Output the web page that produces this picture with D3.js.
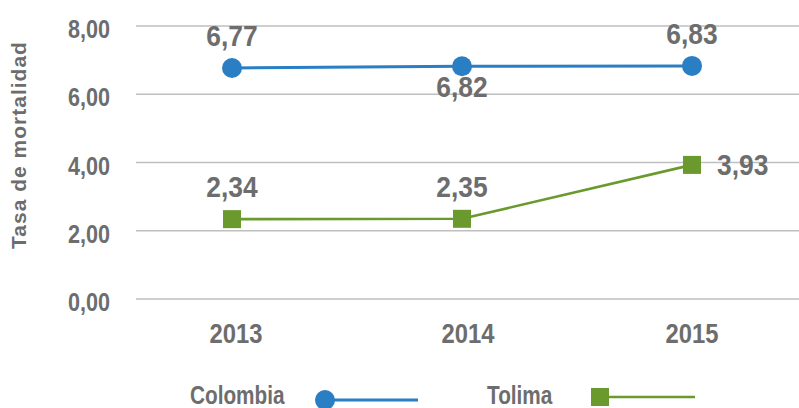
<!DOCTYPE html>
<html>
<head>
<meta charset="utf-8">
<script src="https://cdn.jsdelivr.net/npm/d3@7"></script>
<style>
  html, body { margin: 0; padding: 0; background: #fff; }
  svg { display: block; }
  text { font-family: "Liberation Sans", Arial, sans-serif; font-weight: bold; fill: #6d6d6d; }
</style>
</head>
<body>
<svg id="chart" width="799" height="408"></svg>
<script>
// Mortality rate by year
const years = ["2013", "2014", "2015"];
const colombia = [6.77, 6.82, 6.83];
const tolima = [2.34, 2.35, 3.93];
const yTicks = [0, 2, 4, 6, 8];
const seriesNames = ["Colombia", "Tolima"];
const axisTitle = "Tasa de mortalidad";

const W = 799, H = 408;
const svg = d3.select("#chart");

const x = d3.scalePoint().domain(years).range([232, 692]);
const y = d3.scaleLinear().domain([0, 8]).range([299, 26]);

const fmt = v => d3.format(".2f")(v).replace(".", ",");

// narrow-face look: squeeze glyphs horizontally
function condense(sel, k) {
  sel.each(function () {
    const w = this.getComputedTextLength();
    d3.select(this).attr("textLength", w * k).attr("lengthAdjust", "spacingAndGlyphs");
  });
}

// gridlines
svg.append("g")
  .selectAll("line")
  .data(yTicks)
  .join("line")
  .attr("x1", 136).attr("x2", W)
  .attr("y1", d => y(d)).attr("y2", d => y(d))
  .attr("stroke", "#bfbfbf").attr("stroke-width", 1.3);

// y axis tick labels
const yAxis = d3.axisLeft(y).tickValues(yTicks).tickFormat(fmt).tickSize(0).tickPadding(0);
const gy = svg.append("g").attr("transform", "translate(110,0)").call(yAxis);
gy.attr("font-family", null).attr("font-size", null);
gy.select(".domain").remove();
gy.selectAll("text").attr("font-size", 26).attr("dy", "0.45em").call(condense, 0.83);

// x axis category labels
const xAxis = d3.axisBottom(x).tickSize(0).tickPadding(0);
const gx = svg.append("g").attr("transform", "translate(0,343)").call(xAxis);
gx.attr("font-family", null).attr("font-size", null);
gx.select(".domain").remove();
gx.selectAll("text").attr("font-size", 28).attr("dy", 0).attr("y", 0).call(condense, 0.85);
gx.selectAll(".tick").attr("transform", (d, i) => `translate(${x(d) + [4, 6, 0][i]},0)`);

// axis title
svg.append("text")
  .attr("transform", "translate(26,145) rotate(-90)")
  .attr("text-anchor", "middle")
  .attr("font-size", 21)
  .attr("letter-spacing", 1)
  .text(axisTitle);

const blue = "#2a7ec3", green = "#6a992d";
const line = d3.line().x(d => x(d.year)).y(d => y(d.v));

const colData = years.map((yr, i) => ({ year: yr, v: colombia[i] }));
const tolData = years.map((yr, i) => ({ year: yr, v: tolima[i] }));

// series lines
svg.append("path").datum(colData).attr("d", line)
  .attr("fill", "none").attr("stroke", blue).attr("stroke-width", 3);
svg.append("path").datum(tolData).attr("d", line)
  .attr("fill", "none").attr("stroke", green).attr("stroke-width", 2.6);

// markers
svg.append("g").selectAll("circle").data(colData).join("circle")
  .attr("cx", d => x(d.year)).attr("cy", d => y(d.v)).attr("r", 10)
  .attr("fill", blue);
const sq = 18;
svg.append("g").selectAll("rect").data(tolData).join("rect")
  .attr("x", d => x(d.year) - sq / 2).attr("y", d => y(d.v) - sq / 2)
  .attr("width", sq).attr("height", sq).attr("fill", green);

// data labels
const placeCol = ["above", "below", "above"];
const placeTol = ["above", "above", "right"];
function labels(data, place) {
  svg.append("g").selectAll("text").data(data).join("text")
    .attr("font-size", 30)
    .attr("text-anchor", (d, i) => place[i] === "right" ? "start" : "middle")
    .attr("x", (d, i) => x(d.year) + (place[i] === "right" ? 25 : 0))
    .attr("y", (d, i) => y(d.v) + (place[i] === "above" ? -22 : place[i] === "below" ? 31 : 10))
    .text(d => fmt(d.v))
    .call(condense, 0.88);
}
labels(colData, placeCol);
labels(tolData, placeTol);

// legend
const lg = svg.append("g");
lg.append("text").attr("x", 190).attr("y", 404).attr("font-size", 25).text(seriesNames[0]).call(condense, 0.83);
lg.append("line").attr("x1", 325).attr("x2", 418).attr("y1", 400).attr("y2", 400)
  .attr("stroke", blue).attr("stroke-width", 3);
lg.append("circle").attr("cx", 325).attr("cy", 400).attr("r", 10).attr("fill", blue);

lg.append("text").attr("x", 487).attr("y", 404).attr("font-size", 25).text(seriesNames[1]).call(condense, 0.83);
lg.append("line").attr("x1", 600).attr("x2", 695).attr("y1", 397).attr("y2", 397)
  .attr("stroke", green).attr("stroke-width", 2.6);
lg.append("rect").attr("x", 600 - sq / 2).attr("y", 397 - sq / 2).attr("width", sq).attr("height", sq).attr("fill", green);
</script>
</body>
</html>
